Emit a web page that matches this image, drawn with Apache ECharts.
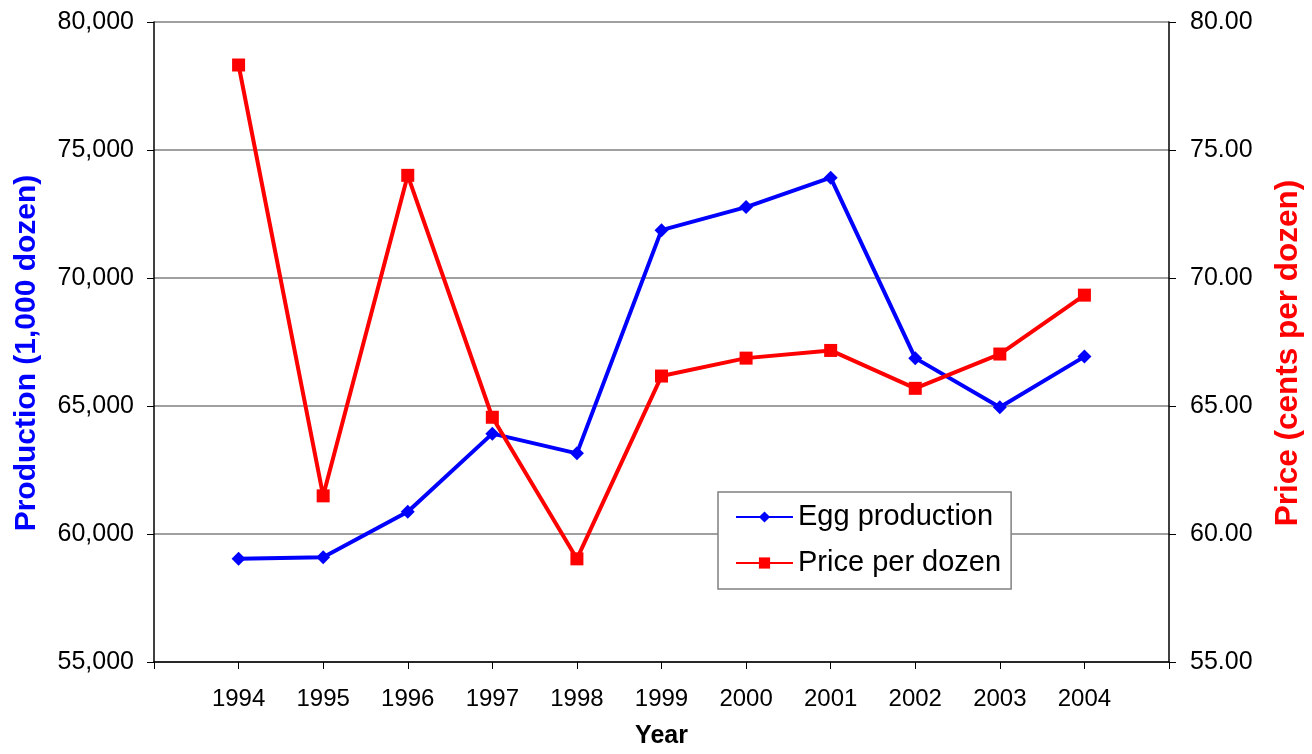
<!DOCTYPE html>
<html>
<head>
<meta charset="utf-8">
<script src="https://cdn.jsdelivr.net/npm/echarts@6/dist/echarts.min.js"></script>
<style>
  html, body { margin: 0; padding: 0; background: #ffffff; }
  #chart { width: 1312px; height: 754px; }
</style>
</head>
<body>
<div id="chart"></div>
<script>
const years = [1994, 1995, 1996, 1997, 1998, 1999, 2000, 2001, 2002, 2003, 2004];
const production = [59030, 59090, 60870, 63920, 63150, 71870, 72770, 73920, 66870, 64950, 66930];
const price = [78.32, 61.49, 74.01, 64.56, 59.03, 66.17, 66.87, 67.17, 65.69, 67.03, 69.33];
const seriesNames = ['Egg production', 'Price per dozen'];
const xTitle = 'Year';
const leftTitle = 'Production (1,000 dozen)';
const rightTitle = 'Price (cents per dozen)';

const FONT = 'Liberation Sans, Arial, sans-serif';
const chart = echarts.init(document.getElementById('chart'), null, { renderer: 'canvas' });

const option = {
  backgroundColor: '#ffffff',
  animation: false,
  grid: { left: 154, right: 138, top: 22, bottom: 83, containLabel: false },
  legend: {
    orient: 'vertical',
    left: 718,
    top: 492,
    padding: [8, 10, 9, 17],
    itemWidth: 57,
    itemHeight: 14,
    itemGap: 12,
    backgroundColor: '#ffffff',
    borderColor: '#808080',
    borderWidth: 1.5,
    textStyle: { fontFamily: FONT, fontSize: 29, color: '#000000', lineHeight: 34 },
    data: seriesNames
  },
  xAxis: {
    type: 'value',
    min: 1993,
    max: 2005,
    interval: 1,
    name: xTitle,
    nameLocation: 'middle',
    nameGap: 62,
    nameTextStyle: { fontFamily: FONT, fontSize: 25, fontWeight: 'bold', color: '#000000' },
    axisLine: { onZero: false, lineStyle: { color: '#000000', width: 1.5 } },
    axisTick: { show: true, length: 7, lineStyle: { color: '#000000', width: 1 } },
    axisLabel: {
      margin: 25,
      fontFamily: FONT, fontSize: 24, color: '#000000',
      formatter: function (v) { return years.indexOf(v) >= 0 ? String(v) : ''; }
    },
    splitLine: { show: false }
  },
  yAxis: [
    {
      type: 'value',
      min: 55000,
      max: 80000,
      interval: 5000,
      position: 'left',
      name: leftTitle,
      nameLocation: 'middle',
      nameRotate: 90,
      nameGap: 112,
      nameTextStyle: { fontFamily: FONT, fontSize: 30, fontWeight: 'bold', color: '#0000ff', padding: [0, 22, 0, 0] },
      axisLine: { show: true, lineStyle: { color: '#000000', width: 1.5 } },
      axisTick: { show: true, length: 7, lineStyle: { color: '#000000', width: 1 } },
      axisLabel: {
        margin: 20,
        fontFamily: FONT, fontSize: 25, color: '#000000',
        formatter: function (v) { return v.toLocaleString('en-US'); }
      },
      splitLine: { show: true, lineStyle: { color: '#808080', width: 1.5 } }
    },
    {
      type: 'value',
      min: 55,
      max: 80,
      interval: 5,
      position: 'right',
      name: rightTitle,
      nameLocation: 'middle',
      nameRotate: 90,
      nameGap: 103,
      nameTextStyle: { fontFamily: FONT, fontSize: 31.5, fontWeight: 'bold', color: '#ff0000', padding: [0, 22, 0, 0] },
      axisLine: { show: true, lineStyle: { color: '#000000', width: 1.5 } },
      axisTick: { show: true, length: 7, lineStyle: { color: '#000000', width: 1 } },
      axisLabel: {
        margin: 21,
        fontFamily: FONT, fontSize: 25, color: '#000000',
        formatter: function (v) { return v.toFixed(2); }
      },
      splitLine: { show: false }
    }
  ],
  series: [
    {
      name: seriesNames[0],
      type: 'line',
      yAxisIndex: 0,
      data: years.map((y, i) => [y, production[i]]),
      symbol: 'diamond',
      symbolSize: 14,
      showSymbol: true,
      lineStyle: { color: '#0000ff', width: 4 },
      itemStyle: { color: '#0000ff' },
      emphasis: { disabled: true }
    },
    {
      name: seriesNames[1],
      type: 'line',
      yAxisIndex: 1,
      data: years.map((y, i) => [y, price[i]]),
      symbol: 'rect',
      symbolSize: 13,
      showSymbol: true,
      lineStyle: { color: '#ff0000', width: 4 },
      itemStyle: { color: '#ff0000' },
      emphasis: { disabled: true }
    }
  ]
};

chart.setOption(option);
</script>
</body>
</html>
